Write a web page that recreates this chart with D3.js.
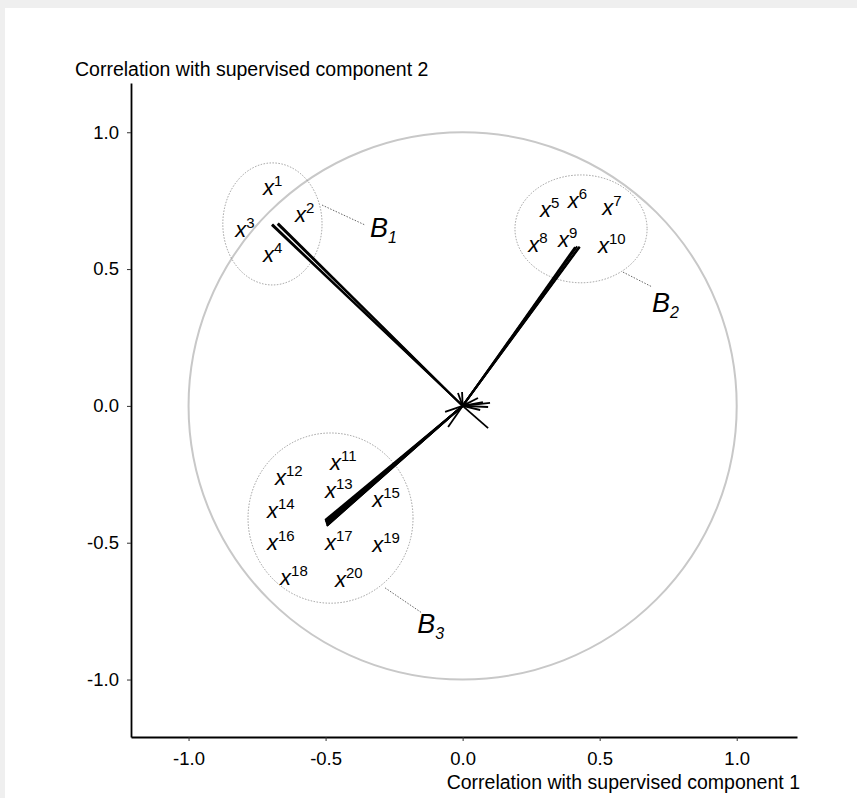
<!DOCTYPE html>
<html>
<head>
  <meta charset="utf-8">
  <title>Correlation circle</title>
  <script src="https://d3js.org/d3.v7.min.js"></script>
  <style>
    body { margin: 0; background: #efefef; }
    svg { display: block; }
    text { font-family: "Liberation Sans", Arial, Helvetica, sans-serif; fill: #000; }
    .axis path { stroke: #000; stroke-width: 1.8px; }
    .axis line { stroke: #333; stroke-width: 1px; }
    .axis text { font-size: 18.5px; }
    .arrow { stroke: #000; stroke-width: 1.8px; fill: none; }
  </style>
</head>
<body>
  <script>
    var W = 857, H = 798;

    // axis ticks
    var ticks = [-1.0, -0.5, 0.0, 0.5, 1.0];

    // variable loadings (endpoints of the segments drawn from the origin)
    var varNames = ["x1","x2","x3","x4","x5","x6","x7","x8","x9","x10",
                    "x11","x12","x13","x14","x15","x16","x17","x18","x19","x20",
                    "x21","x22","x23","x24","x25","x26","x27","x28","x29","x30"];
    var corr1 = [-0.697, -0.694, -0.676, -0.673,
                 0.410, 0.413, 0.418, 0.424, 0.426, 0.428,
                 -0.502, -0.501, -0.500, -0.499, -0.498, -0.497, -0.496, -0.495, -0.496, -0.494,
                 0.100, 0.093, 0.074, 0.093, -0.002, -0.017, -0.064, -0.053, 0.064, 0.056];
    var corr2 = [0.661, 0.664, 0.664, 0.668,
                 0.581, 0.580, 0.583, 0.579, 0.582, 0.581,
                 -0.417, -0.421, -0.424, -0.427, -0.430, -0.432, -0.434, -0.436, -0.439, -0.437,
                 0.011, -0.004, 0.014, -0.081, 0.051, 0.047, -0.022, -0.077, -0.015, 0.029];

    // label anchors (left of the letter, baseline) for x1..x20
    var labelX = [-0.728, -0.612, -0.830, -0.728, 0.282, 0.384, 0.509, 0.239, 0.348, 0.494,
                  -0.484, -0.685, -0.502, -0.714, -0.330, -0.714, -0.502, -0.666, -0.330, -0.466];
    var labelY = [0.771, 0.672, 0.617, 0.526, 0.690, 0.723, 0.698, 0.562, 0.581, 0.559,
                  -0.234, -0.289, -0.337, -0.410, -0.370, -0.527, -0.527, -0.655, -0.534, -0.662];

    // blocks: ellipse centre / radii, leader line and label position
    var blocks = ["1", "2", "3"];
    var blockCx = [-0.694, 0.432, -0.482];
    var blockCy = [0.665, 0.647, -0.410];
    var blockRx = [0.181, 0.241, 0.301];
    var blockRy = [0.223, 0.197, 0.311];
    var leadFrom = [[-0.513, 0.734], [0.585, 0.489], [-0.283, -0.665]];
    var leadTo = [[-0.356, 0.661], [0.691, 0.435], [-0.148, -0.757]];
    var blockLabel = [[-0.338, 0.617], [0.691, 0.343], [-0.166, -0.829]];

    var x = d3.scaleLinear().domain([-1.21, 1.22]).range([131, 797]);
    var y = d3.scaleLinear().domain([-1.21, 1.18]).range([737, 83]);

    var svg = d3.select("body").append("svg")
        .attr("width", W)
        .attr("height", H);

    // white panel
    svg.append("rect")
        .attr("x", 5).attr("y", 8)
        .attr("width", W - 5).attr("height", H - 8)
        .attr("fill", "#fff");

    // unit circle
    svg.append("ellipse")
        .attr("cx", x(0)).attr("cy", y(0))
        .attr("rx", x(1) - x(0)).attr("ry", y(0) - y(1))
        .attr("fill", "none")
        .attr("stroke", "#c8c8c8")
        .attr("stroke-width", 2);

    // block ellipses
    svg.selectAll(".block")
        .data(blocks)
      .enter().append("ellipse")
        .attr("class", "block")
        .attr("cx", function(d, i) { return x(blockCx[i]); })
        .attr("cy", function(d, i) { return y(blockCy[i]); })
        .attr("rx", function(d, i) { return x(blockRx[i]) - x(0); })
        .attr("ry", function(d, i) { return y(0) - y(blockRy[i]); })
        .attr("fill", "none")
        .attr("stroke", "#888")
        .attr("stroke-width", 0.8)
        .attr("stroke-dasharray", "1.5,1.5");

    // leader lines
    svg.selectAll(".leader")
        .data(blocks)
      .enter().append("line")
        .attr("class", "leader")
        .attr("x1", function(d, i) { return x(leadFrom[i][0]); })
        .attr("y1", function(d, i) { return y(leadFrom[i][1]); })
        .attr("x2", function(d, i) { return x(leadTo[i][0]); })
        .attr("y2", function(d, i) { return y(leadTo[i][1]); })
        .attr("stroke", "#555")
        .attr("stroke-width", 0.9)
        .attr("stroke-dasharray", "1.5,1.5");

    // segments from origin
    svg.selectAll(".arrow")
        .data(varNames)
      .enter().append("line")
        .attr("class", "arrow")
        .attr("x1", x(0)).attr("y1", y(0))
        .attr("x2", function(d, i) { return x(corr1[i]); })
        .attr("y2", function(d, i) { return y(corr2[i]); });

    // variable labels
    var lab = svg.selectAll(".vlab")
        .data(varNames.slice(0, 20))
      .enter().append("text")
        .attr("class", "vlab")
        .attr("x", function(d, i) { return x(labelX[i]); })
        .attr("y", function(d, i) { return y(labelY[i]); })
        .style("font-size", "22px");
    lab.append("tspan")
        .style("font-style", "italic")
        .text("x");
    lab.append("tspan")
        .attr("dy", -9)
        .style("font-size", "15px")
        .text(function(d) { return d.slice(1); });

    // block labels
    var bl = svg.selectAll(".blab")
        .data(blocks)
      .enter().append("text")
        .attr("class", "blab")
        .attr("x", function(d, i) { return x(blockLabel[i][0]); })
        .attr("y", function(d, i) { return y(blockLabel[i][1]); })
        .style("font-size", "27px")
        .style("font-style", "italic");
    bl.append("tspan").text("B");
    bl.append("tspan")
        .attr("dy", 6)
        .style("font-size", "16px")
        .text(function(d) { return d; });

    // axes
    svg.append("g")
        .attr("class", "axis")
        .attr("transform", "translate(0," + y.range()[0] + ")")
        .call(d3.axisBottom(x).tickValues(ticks).tickSize(4).tickSizeOuter(0)
              .tickFormat(d3.format(".1f")))
        .call(function(g) { g.selectAll("text").attr("dy", "1.15em"); });

    svg.append("g")
        .attr("class", "axis")
        .attr("transform", "translate(" + x.range()[0] + ",0)")
        .call(d3.axisLeft(y).tickValues(ticks).tickSize(4).tickSizeOuter(0)
              .tickFormat(d3.format(".1f")))
        .call(function(g) { g.selectAll("text").attr("x", -12); });

    svg.selectAll(".axis text").text(function() {
      return d3.select(this).text().replace("\u2212", "-");
    });

    // axis titles
    svg.append("text")
        .attr("x", 75).attr("y", 76)
        .style("font-size", "19.5px")
        .text("Correlation with supervised component 2");

    svg.append("text")
        .attr("x", 800).attr("y", 789)
        .attr("text-anchor", "end")
        .style("font-size", "19.5px")
        .text("Correlation with supervised component 1");
  </script>
</body>
</html>
